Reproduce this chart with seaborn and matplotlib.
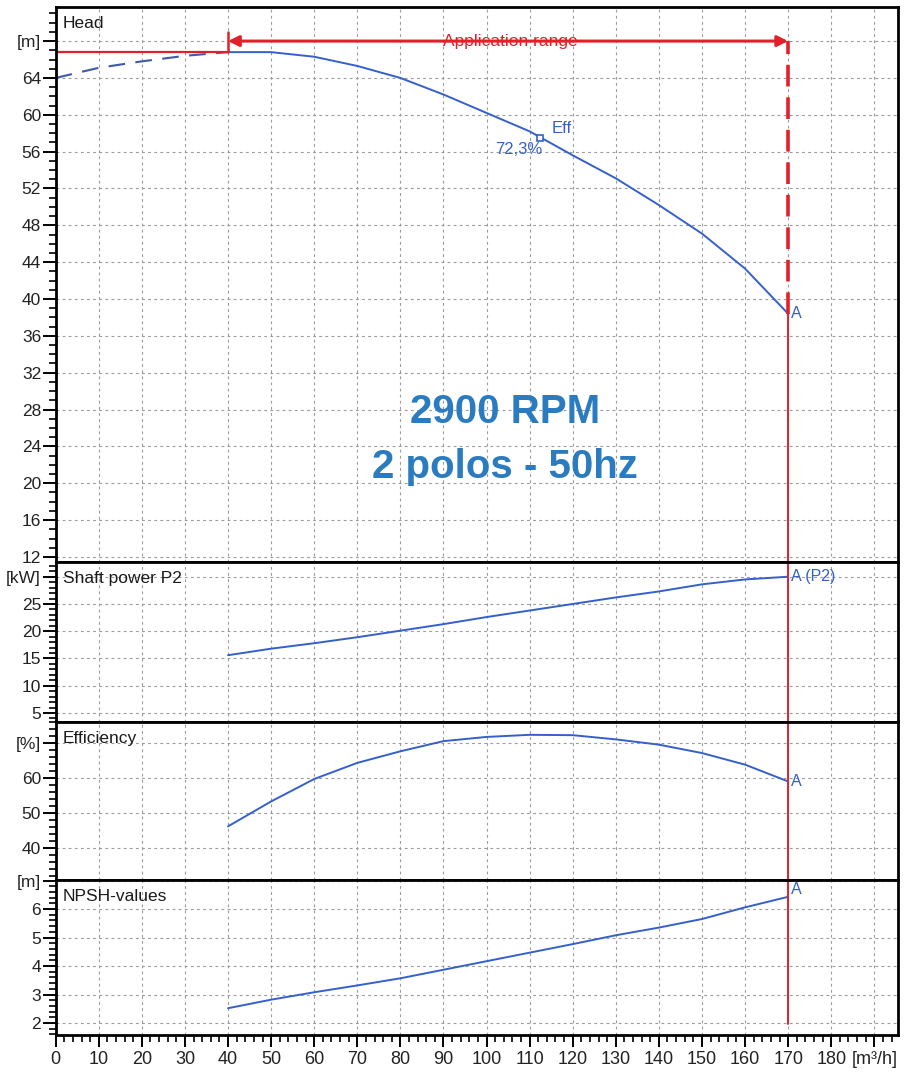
import matplotlib
matplotlib.use("Agg")
import numpy as np
import pandas as pd
import seaborn as sns
import matplotlib.pyplot as plt
from matplotlib.ticker import MultipleLocator, FuncFormatter

# ---------------- data ----------------
head_q = [0, 10, 20, 30, 40, 50, 60, 70, 80, 90, 100, 110, 120, 130, 140, 150, 160, 170]
head_h = [64.0, 65.1, 65.8, 66.4, 66.8, 66.8, 66.3, 65.3, 64.0, 62.2, 60.2, 58.2,
          55.6, 53.1, 50.2, 47.1, 43.3, 38.4]

curve_q = [40, 50, 60, 70, 80, 90, 100, 110, 120, 130, 140, 150, 160, 170]
power_kw = [15.6, 16.8, 17.8, 18.9, 20.1, 21.3, 22.6, 23.8, 25.0, 26.2, 27.3, 28.6, 29.5, 30.0]
efficiency = [46.2, 53.3, 59.7, 64.3, 67.6, 70.5, 71.7, 72.3, 72.2, 71.0, 69.5, 67.1, 63.8, 59.0]
npsh_m = [2.52, 2.82, 3.08, 3.32, 3.57, 3.87, 4.17, 4.47, 4.77, 5.08, 5.35, 5.65, 6.06, 6.43]

bep_q, bep_h, bep_eff = 112.4, 57.45, 72.3
app_range = (40, 170)
app_arrow_h = 68.0
shutoff_h = 66.8
npsh_line_bottom = 1.95

panel_titles = ["Head", "Shaft power P2", "Efficiency", "NPSH-values"]
unit_labels = ["[m]", "[kW]", "[%]", "[m]"]
unit_positions = [68, 30, 70, 7]
title_lines = ["2900 RPM", "2 polos - 50hz"]

# ---------------- style ----------------
sns.set_theme(style="white")
plt.rcParams["font.family"] = ["Liberation Sans", "DejaVu Sans"]

BLUE = "#3560cc"
TXT_BLUE = "#2a7bbf"
RED = "#e2202a"
GRID = "#9a9a9a"
TICK_TXT = "#222222"

fig = plt.figure(figsize=(9.1, 10.81), dpi=100)
FW, FH = 910, 1081
L = 55.7 / FW
W = (898 - 55.7) / FW
edges = [7, 562, 721.5, 880, 1035]
axes = []
for i in range(4):
    top, bot = edges[i], edges[i + 1]
    ax = fig.add_axes([L, 1 - bot / FH, W, (bot - top) / FH],
                      sharex=axes[0] if axes else None)
    axes.append(ax)
ax_h, ax_p, ax_e, ax_n = axes

ylims = [(11.45, 71.7), (3.44, 32.7), (30.9, 76.1), (1.58, 7.02)]
majors = [4, 5, 10, 1]
minors = [1, 1, 2, 0.2]

def make_fmt(top, unit):
    def f(v, pos):
        if abs(v - top) < 1e-6:
            return unit
        return f"{v:g}"
    return FuncFormatter(f)

def xfmt(v, pos):
    if abs(v - 190) < 1e-6:
        return "[m³/h]"
    return f"{v:g}"

for i, ax in enumerate(axes):
    ax.set_xlim(0, 195.5)
    ax.set_ylim(*ylims[i])
    ax.yaxis.set_major_locator(MultipleLocator(majors[i]))
    ax.yaxis.set_minor_locator(MultipleLocator(minors[i]))
    ax.yaxis.set_major_formatter(make_fmt(unit_positions[i], unit_labels[i]))
    ax.xaxis.set_major_locator(MultipleLocator(10))
    ax.xaxis.set_minor_locator(MultipleLocator(2))
    ax.grid(True, which="major", color=GRID, linestyle=(0, (2.5, 3)), linewidth=0.8)
    ax.set_axisbelow(True)
    for s in ax.spines.values():
        s.set_color("black")
        s.set_linewidth(2.0)
    ax.tick_params(axis="y", which="major", direction="out", length=9.5, width=1.4,
                   color="black", labelsize=12.5, labelcolor=TICK_TXT, pad=1, left=True)
    ax.tick_params(axis="y", which="minor", direction="out", length=5, width=1.2,
                   color="black", left=True)
    if ax is not ax_n:
        ax.tick_params(axis="x", which="both", bottom=False, labelbottom=False)
    else:
        ax.tick_params(axis="x", which="major", direction="out", length=8.5, width=1.4,
                       color="black", labelsize=13, labelcolor=TICK_TXT, pad=3, bottom=True)
        ax.tick_params(axis="x", which="minor", direction="out", length=5, width=1.2,
                       color="black", bottom=True)
        ax.xaxis.set_major_formatter(FuncFormatter(xfmt))
    ax.annotate(panel_titles[i], xy=(0, 1), xycoords="axes fraction",
                xytext=(7, -9), textcoords="offset pixels", ha="left", va="top",
                fontsize=12.5, color="#1a1a1a")

# ---------------- head panel ----------------
head_df = pd.DataFrame({"q": head_q, "h": head_h})
dash_df = head_df[head_df["q"] <= app_range[0]]
solid_df = head_df[head_df["q"] >= app_range[0]]
sns.lineplot(data=dash_df, x="q", y="h", ax=ax_h, color="#3f5aa8", linewidth=1.5,
             estimator=None, sort=False, linestyle=(0, (8, 5)))
sns.lineplot(data=solid_df, x="q", y="h", ax=ax_h, color=BLUE, linewidth=1.4,
             estimator=None, sort=False)

# best efficiency point
ax_h.plot([bep_q], [bep_h], marker="s", markersize=5, markerfacecolor="white",
          markeredgecolor=BLUE, markeredgewidth=1.2, linestyle="none", zorder=5)
ax_h.text(bep_q + 2.8, bep_h + 1.1, "Eff", color=BLUE, fontsize=12, ha="left", va="center")
ax_h.text(bep_q + 0.5, bep_h - 1.25, f"{bep_eff:.1f}%".replace(".", ","), color=BLUE,
          fontsize=12, ha="right", va="center")
ax_h.text(app_range[1] + 0.6, head_h[-1], "A", color=BLUE, fontsize=11.5, ha="left", va="center")

# application range
ax_h.plot([0, app_range[0]], [shutoff_h, shutoff_h], color=RED, linewidth=1.6)
ax_h.plot([app_range[0], app_range[0]], [shutoff_h, app_arrow_h + 1.0], color=RED, linewidth=1.8)
ax_h.annotate("", xy=(app_range[1], app_arrow_h), xytext=(app_range[0], app_arrow_h),
              arrowprops=dict(arrowstyle="<|-|>", color=RED, lw=2.2, mutation_scale=16,
                              shrinkA=0, shrinkB=0))
ax_h.text(105.5, app_arrow_h, "Application range", color=RED, fontsize=12.5,
          ha="center", va="center")
ax_h.plot([app_range[1], app_range[1]], [head_h[-1], app_arrow_h], color=RED,
          linewidth=2.6, linestyle=(0, (6, 3)))
ax_h.plot([app_range[1], app_range[1]], [ylims[0][0], head_h[-1]], color=RED, linewidth=1.4)

for k, line in enumerate(title_lines):
    ax_h.text(104.3, 27.7 - 5.9 * k, line, color=TXT_BLUE, fontsize=29, fontweight="bold",
              ha="center", va="center")

# ---------------- other panels ----------------
panel_data = [(ax_p, power_kw, "A (P2)"), (ax_e, efficiency, "A"), (ax_n, npsh_m, "A")]
for ax, vals, lab in panel_data:
    df = pd.DataFrame({"q": curve_q, "v": vals})
    sns.lineplot(data=df, x="q", y="v", ax=ax, color=BLUE, linewidth=1.4,
                 estimator=None, sort=False)
    ax.text(app_range[1] + 0.6, vals[-1], lab, color=BLUE, fontsize=11.5, ha="left",
            va="bottom" if ax is ax_n else "center")

for ax in axes:
    ax.set_xlabel("")
    ax.set_ylabel("")

ax_p.axvline(app_range[1], color=RED, linewidth=1.4)
ax_e.axvline(app_range[1], color=RED, linewidth=1.4)
ax_n.plot([app_range[1], app_range[1]], [npsh_line_bottom, ylims[3][1]], color=RED, linewidth=1.4)

fig.savefig("out.png", dpi=100, facecolor="white")
